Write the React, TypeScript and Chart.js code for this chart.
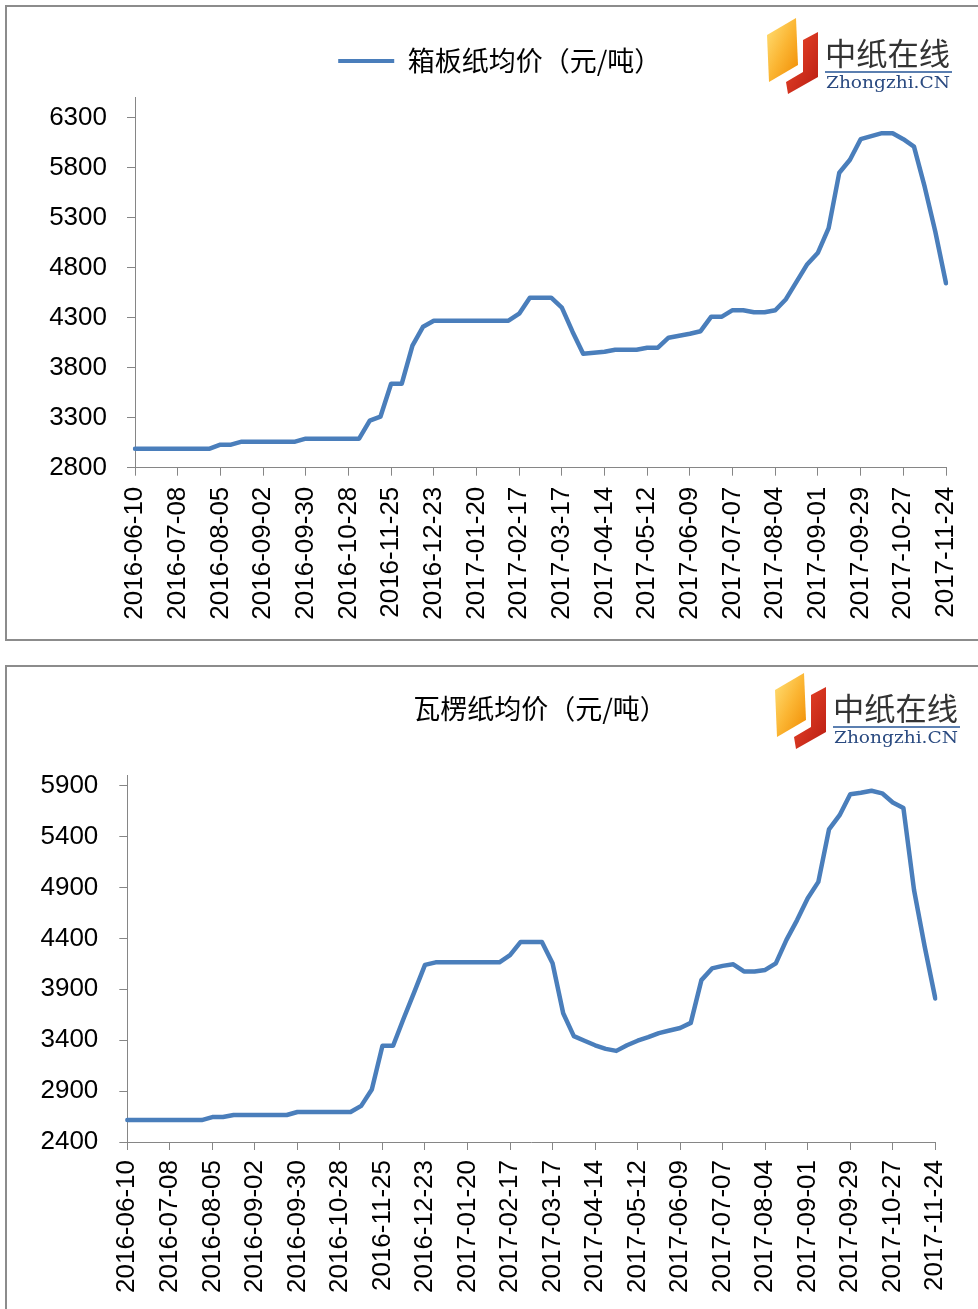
import React, { useEffect, useRef } from 'react';
import { Chart, registerables } from 'chart.js';

Chart.register(...registerables);

// ---------- data ----------
const FIRST_WEEK = '2016-06-10';

const X_TICK_LABELS = [
  '2016-06-10', '2016-07-08', '2016-08-05', '2016-09-02', '2016-09-30',
  '2016-10-28', '2016-11-25', '2016-12-23', '2017-01-20', '2017-02-17',
  '2017-03-17', '2017-04-14', '2017-05-12', '2017-06-09', '2017-07-07',
  '2017-08-04', '2017-09-01', '2017-09-29', '2017-10-27', '2017-11-24',
];

const BOXBOARD_PRICES = [
  2990, 2990, 2990, 2990, 2990, 2990, 2990, 2990,
  3030, 3030,
  3060, 3060, 3060, 3060, 3060, 3060,
  3090, 3090, 3090, 3090, 3090, 3090,
  3270, 3310, 3640, 3640, 4020, 4210,
  4270, 4270, 4270, 4270, 4270, 4270, 4270, 4270,
  4340, 4500, 4500, 4500, 4400, 4160, 3940, 3950, 3960,
  3980, 3980, 3980, 4000, 4000,
  4100, 4120, 4140, 4165, 4310, 4310, 4375, 4375, 4355, 4355, 4375,
  4485, 4660, 4835, 4950, 5195, 5750, 5880, 6085, 6115, 6145, 6145, 6085, 6010, 5610, 5160, 4645,
];

const CORRUGATED_PRICES = [
  2615, 2615, 2615, 2615, 2615, 2615, 2615, 2615,
  2645, 2645,
  2665, 2665, 2665, 2665, 2665, 2665,
  2695, 2695, 2695, 2695, 2695, 2695,
  2755, 2915, 3345, 3345, 3615, 3875, 4140,
  4165, 4165, 4165, 4165, 4165, 4165, 4165,
  4235, 4365, 4365, 4365, 4155, 3665, 3440, 3395, 3350, 3315, 3295, 3350, 3395, 3430, 3470, 3495, 3520, 3570,
  3990, 4105, 4130, 4145, 4075, 4075, 4090, 4155, 4385, 4580, 4795, 4955, 5470, 5610, 5815, 5830, 5850, 5825, 5735, 5680, 4875, 4320, 3810,
];

const Y_TICKS_TOP = [2800, 3300, 3800, 4300, 4800, 5300, 5800, 6300];
const Y_TICKS_BOTTOM = [2400, 2900, 3400, 3900, 4400, 4900, 5400, 5900];

const TOP_LEGEND = '箱板纸均价（元/吨）';
const BOTTOM_TITLE = '瓦楞纸均价（元/吨）';

// ---------- helpers ----------
function weeklyCategories(first: string, count: number): string[] {
  const t0 = new Date(first + 'T00:00:00Z').getTime();
  const out: string[] = [];
  for (let i = 0; i < count; i++) {
    out.push(new Date(t0 + i * 7 * 86400000).toISOString().slice(0, 10));
  }
  return out;
}

const CATEGORIES = weeklyCategories(FIRST_WEEK, BOXBOARD_PRICES.length);

const LINE_COLOR = '#4a7ebb';
const AXIS_COLOR = '#868686';
const TICK_FONT = { family: '"Liberation Sans", Arial, sans-serif', size: 26 };
const CJK_FAMILY = '"Noto Sans CJK SC", "Noto Sans", sans-serif';
const CJK_SIZE = 27;

type Spec = {
  name: string;
  values: number[];
  yMin: number;
  yMax: number;
  yTicks: number[];
  left: number;
  top: number;
  width: number;
  height: number;
  padding: { left: number; right: number; top: number; bottom: number };
  yAxisWidth: number;
  xAxisHeight: number;
  rightAxisWidth: number;
  yTickPadding: number;
  xTickPadding: number;
  legend: boolean;
  title: string;
  titlePadding: { top: number; bottom: number };
  spacer: number;
};

function buildConfig(spec: Spec): any {
  const scales: any = {
    x: {
      type: 'category',
      offset: false,
      grid: {
        display: true,
        drawOnChartArea: false,
        drawTicks: true,
        tickLength: 8,
        color: AXIS_COLOR,
        lineWidth: 1,
      },
      border: { display: true, color: AXIS_COLOR, width: 1 },
      ticks: {
        autoSkip: false,
        maxRotation: 90,
        minRotation: 90,
        padding: spec.xTickPadding,
        font: TICK_FONT,
        color: '#000',
      },
      afterBuildTicks: (s: any) => {
        s.ticks = s.ticks.filter((t: any) => X_TICK_LABELS.includes(CATEGORIES[t.value]));
      },
      afterFit: (s: any) => {
        s.height = spec.xAxisHeight;
        s.paddingLeft = 0;
        s.paddingRight = 0;
      },
    },
    y: {
      type: 'linear',
      position: 'left',
      min: spec.yMin,
      max: spec.yMax,
      afterBuildTicks: (s: any) => {
        s.ticks = spec.yTicks.map((v) => ({ value: v }));
      },
      grid: {
        display: true,
        drawOnChartArea: false,
        drawTicks: true,
        tickLength: 8,
        color: AXIS_COLOR,
        lineWidth: 1,
      },
      border: { display: true, color: AXIS_COLOR, width: 1 },
      ticks: {
        padding: spec.yTickPadding,
        font: TICK_FONT,
        color: '#000',
        callback: (v: any) => String(v),
      },
      afterFit: (s: any) => {
        s.width = spec.yAxisWidth;
        s.paddingTop = 0;
        s.paddingBottom = 0;
      },
    },
  };
  if (spec.rightAxisWidth > 0) {
    scales.yR = {
      type: 'linear',
      position: 'right',
      display: true,
      grid: { display: false, drawTicks: false },
      border: { display: false },
      ticks: { display: false },
      afterFit: (s: any) => {
        s.width = spec.rightAxisWidth;
      },
    };
  }

  const plugins: any = {
    tooltip: { enabled: false },
    legend: {
      display: spec.legend,
      position: 'top',
      align: 'center',
      labels: {
        boxWidth: 56,
        boxHeight: 4,
        padding: 10,
        color: '#000',
        font: { family: CJK_FAMILY, size: CJK_SIZE },
        generateLabels: () => [
          {
            text: spec.name,
            fillStyle: LINE_COLOR,
            strokeStyle: LINE_COLOR,
            lineWidth: 0,
            hidden: false,
            datasetIndex: 0,
          },
        ],
      },
    },
    title: spec.title
      ? {
          display: true,
          text: spec.title,
          color: '#000',
          font: { family: CJK_FAMILY, size: CJK_SIZE, weight: 'normal', lineHeight: 1.2 },
          padding: spec.titlePadding,
        }
      : {
          display: true,
          text: '',
          weight: 500,
          font: { size: 1, lineHeight: 1 },
          padding: { top: 0, bottom: spec.spacer - 1 },
        },
  };

  return {
    type: 'line',
    data: {
      labels: CATEGORIES,
      datasets: [
        {
          label: spec.name,
          data: spec.values,
          borderColor: LINE_COLOR,
          backgroundColor: LINE_COLOR,
          borderWidth: 4.5,
          pointRadius: 0,
          pointHoverRadius: 0,
          tension: 0,
          fill: false,
          borderJoinStyle: 'round',
          borderCapStyle: 'round',
          yAxisID: 'y',
          xAxisID: 'x',
        },
      ],
    },
    options: {
      responsive: false,
      maintainAspectRatio: false,
      animation: false,
      devicePixelRatio: 1,
      events: [],
      layout: { padding: spec.padding },
      scales,
      plugins,
    },
  };
}

const TOP_SPEC: Spec = {
  name: TOP_LEGEND,
  values: BOXBOARD_PRICES,
  yMin: 2800,
  yMax: 6500,
  yTicks: Y_TICKS_TOP,
  left: 0,
  top: 0,
  width: 978,
  height: 640,
  padding: { left: 47, right: 25.5, top: 37.5, bottom: 0 },
  yAxisWidth: 88,
  xAxisHeight: 172.3,
  rightAxisWidth: 6.5,
  yTickPadding: 20,
  xTickPadding: 11,
  legend: true,
  title: '',
  titlePadding: { top: 0, bottom: 0 },
  spacer: 13.2,
};

const BOTTOM_SPEC: Spec = {
  name: BOTTOM_TITLE,
  values: CORRUGATED_PRICES,
  yMin: 2400,
  yMax: 6000,
  yTicks: Y_TICKS_BOTTOM,
  left: 0,
  top: 660,
  width: 1080,
  height: 649,
  padding: { left: 0, right: 0, top: 10, bottom: 0 },
  yAxisWidth: 127.3,
  xAxisHeight: 167,
  rightAxisWidth: 144.7,
  yTickPadding: 21,
  xTickPadding: 10,
  legend: false,
  title: BOTTOM_TITLE,
  titlePadding: { top: 22.8, bottom: 50.3 },
  spacer: 0,
};

function PriceChart({ spec }: { spec: Spec }) {
  const ref = useRef<HTMLCanvasElement | null>(null);
  useEffect(() => {
    if (!ref.current) return;
    const chart = new Chart(ref.current, buildConfig(spec));
    return () => chart.destroy();
  }, [spec]);
  return (
    <canvas
      ref={ref}
      width={spec.width}
      height={spec.height}
      style={{ position: 'absolute', left: spec.left, top: spec.top, width: spec.width, height: spec.height }}
    />
  );
}

function Logo({ x, y, id }: { x: number; y: number; id: string }) {
  return (
    <svg
      style={{ position: 'absolute', left: x, top: y }}
      width={200}
      height={85}
      viewBox="0 0 200 85"
    >
      <defs>
        <linearGradient id={id + 'o'} x1="0" y1="0" x2="1" y2="1">
          <stop offset="0" stopColor="#ffe27a" />
          <stop offset="0.5" stopColor="#fbb634" />
          <stop offset="1" stopColor="#f08a00" />
        </linearGradient>
        <linearGradient id={id + 'r'} x1="0" y1="0" x2="1" y2="1">
          <stop offset="0" stopColor="#ee4a2c" />
          <stop offset="1" stopColor="#b81c12" />
        </linearGradient>
      </defs>
      <polygon points="7,20 36,3 38,50 9,67" fill={`url(#${id}o)`} />
      <polygon points="43,25 58,17 58,62 28,79 26,67 43,57" fill={`url(#${id}r)`} />
      <text
        x="65"
        y="50"
        fontSize="31"
        textLength="125"
        lengthAdjust="spacingAndGlyphs"
        fill="#333"
        fontFamily='"Noto Sans CJK SC", sans-serif'
      >
        中纸在线
      </text>
      <line x1="65" y1="57" x2="192" y2="57" stroke="#5b7fb0" strokeWidth="2" />
      <text
        x="66"
        y="73"
        fontSize="17"
        textLength="124"
        lengthAdjust="spacingAndGlyphs"
        fill="#2a4a80"
        fontFamily='"DejaVu Serif", serif'
      >
        Zhongzhi.CN
      </text>
    </svg>
  );
}

export default function App() {
  return (
    <div
      style={{
        position: 'absolute',
        left: 0,
        top: 0,
        width: 978,
        height: 1309,
        overflow: 'hidden',
        background: '#fff',
      }}
    >
      <div
        style={{
          position: 'absolute',
          left: 5,
          top: 5,
          width: 1100,
          height: 636,
          border: '2px solid #8c8c8c',
          boxSizing: 'border-box',
        }}
      />
      <div
        style={{
          position: 'absolute',
          left: 5,
          top: 665,
          width: 1100,
          height: 700,
          border: '2px solid #8c8c8c',
          boxSizing: 'border-box',
        }}
      />
      <PriceChart spec={TOP_SPEC} />
      <PriceChart spec={BOTTOM_SPEC} />
      <Logo x={760} y={15} id="lg1" />
      <Logo x={768} y={670} id="lg2" />
    </div>
  );
}
